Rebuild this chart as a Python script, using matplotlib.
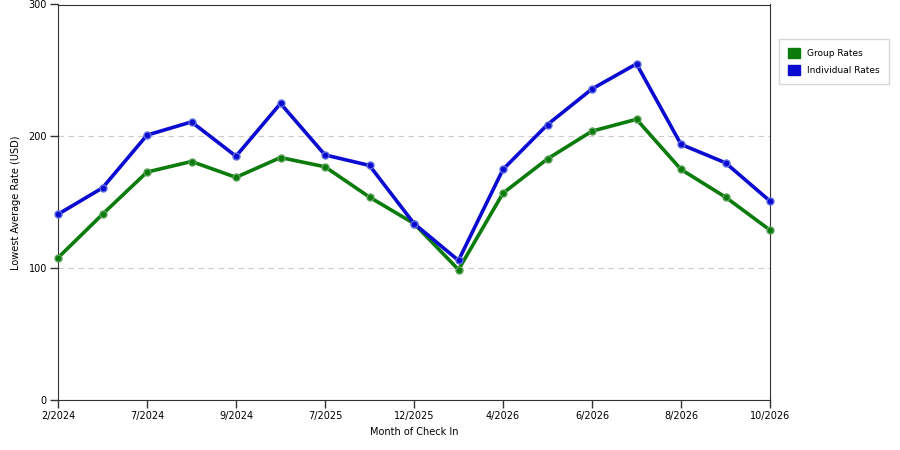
import numpy as np
from matplotlib import pyplot as plt
from matplotlib.patches import Patch

# dane
months = ["2/2024", "", "7/2024", "", "9/2024", "", "7/2025", "", "12/2025", "",
          "4/2026", "", "6/2026", "", "8/2026", "", "10/2026"]
group_rates = [108, 141, 173, 181, 169, 184, 177, 154, 134, 99,
               157, 183, 204, 213, 175, 154, 129]
individual_rates = [141, 161, 201, 211, 185, 225, 186, 178, 134, 106,
                    175, 209, 236, 255, 194, 180, 151]

green = "#0b7b0b"
blue = "#0a0ad0"

plt.rcParams['font.family'] = ['DejaVu Sans']
fig = plt.figure(figsize=(9, 4.5), dpi=100)
ax = fig.add_axes([58/900, 1-400.3/450, 712/900, 395.8/450])

x = np.arange(len(months))
ax.plot(x, group_rates, c=green, lw=2.6, marker="o", ms=5, mfc=green, mec="#5aa05a", mew=1,
        zorder=3, clip_on=False)
ax.plot(x, individual_rates, c=blue, lw=2.6, marker="o", ms=5, mfc=blue, mec="#5a6ae0", mew=1,
        zorder=3, clip_on=False)

ax.set_xlim(0, len(months) - 1)
ax.set_ylim(0, 300)
tick_pos = [i for i, m in enumerate(months) if m]
ax.set_xticks(tick_pos)
ax.set_xticklabels([months[i] for i in tick_pos])
ax.set_yticks([0, 100, 200, 300])
ax.tick_params(labelsize=7, length=6, width=1, color="#333333", pad=2)
ax.grid(axis="y", ls=(0, (5, 4)), color="#cccccc", lw=0.8)
for s in ax.spines.values():
    s.set_color("#333333")

ax.set_xlabel("Month of Check In", fontsize=7, labelpad=4)
ax.set_ylabel("Lowest Average Rate (USD)", fontsize=7, labelpad=5)

handles = [Patch(facecolor=green, edgecolor=green, label="Group Rates"),
           Patch(facecolor=blue, edgecolor=blue, label="Individual Rates")]
leg = fig.legend(handles=handles, loc="upper left", bbox_to_anchor=(779/900, 1-39/450),
                 fontsize=6.5, frameon=True, fancybox=False, edgecolor="#cccccc",
                 handlelength=1.3, handleheight=1.3, borderpad=1.0, labelspacing=0.8,
                 handletextpad=0.8, borderaxespad=0)

plt.savefig("out.png")
